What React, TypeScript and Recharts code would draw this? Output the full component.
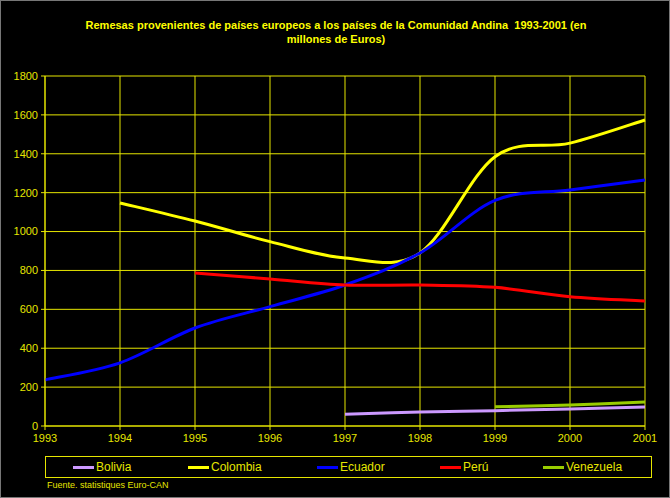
import { LineChart, Line, XAxis, YAxis, CartesianGrid } from "recharts";

const YEARS = [1993, 1994, 1995, 1996, 1997, 1998, 1999, 2000, 2001];
const Y_TICKS = [0, 200, 400, 600, 800, 1000, 1200, 1400, 1600, 1800];

const BOLIVIA = [null, null, null, null, 60, 72, 79, 88, 98];
const COLOMBIA = [null, 1147, 1054, 948, 864, 890, 1385, 1455, 1574];
const ECUADOR = [237, 325, 504, 614, 725, 890, 1160, 1214, 1265];
const PERU = [null, null, 787, 756, 725, 725, 713, 665, 643];
const VENEZUELA = [null, null, null, null, null, null, 99, 108, 123];

const SERIES = [
  { key: "Bolivia", values: BOLIVIA, color: "#cc99ff" },
  { key: "Colombia", values: COLOMBIA, color: "#ffff00" },
  { key: "Ecuador", values: ECUADOR, color: "#0000ff" },
  { key: "Perú", values: PERU, color: "#ff0000" },
  { key: "Venezuela", values: VENEZUELA, color: "#99cc00" },
];

const YELLOW = "#e6e600";
const FONT = "'Liberation Sans', Arial, sans-serif";

// Excel style smoothing (Catmull-Rom through the points)
function smoothCurve(context: any) {
  let pts: number[][] = [];
  return {
    areaStart() {},
    areaEnd() {},
    lineStart() {
      pts = [];
    },
    point(x: number, y: number) {
      pts.push([+x, +y]);
    },
    lineEnd() {
      if (!pts.length) return;
      context.moveTo(pts[0][0], pts[0][1]);
      for (let i = 0; i < pts.length - 1; i++) {
        const p0 = pts[i - 1] || pts[i];
        const p1 = pts[i];
        const p2 = pts[i + 1];
        const p3 = pts[i + 2] || p2;
        context.bezierCurveTo(
          p1[0] + (p2[0] - p0[0]) / 6,
          p1[1] + (p2[1] - p0[1]) / 6,
          p2[0] - (p3[0] - p1[0]) / 6,
          p2[1] - (p3[1] - p1[1]) / 6,
          p2[0],
          p2[1]
        );
      }
    },
  };
}

const data = YEARS.map((year, i) => {
  const row: Record<string, any> = { year };
  for (const s of SERIES) row[s.key] = s.values[i];
  return row;
});

const LEGEND_X = [72, 187, 316, 439, 542];

export default function App() {
  return (
    <div
      style={{
        position: "absolute",
        left: 0,
        top: 0,
        width: 670,
        height: 498,
        background: "#000",
        boxSizing: "border-box",
        border: "1px solid #777",
        fontFamily: FONT,
      }}
    >
      <div
        style={{
          position: "absolute",
          top: 17,
          left: 0,
          width: 670,
          textAlign: "center",
          color: "#ffff00",
          fontWeight: "bold",
          fontSize: 11,
          lineHeight: "14px",
        }}
      >
        Remesas provenientes de países europeos a los países de la Comunidad Andina&nbsp; 1993-2001 (en
        <br />
        millones de Euros)
      </div>
      <LineChart
        width={668}
        height={496}
        data={data}
        margin={{ top: 75, right: 24, left: 0, bottom: 51 }}
        style={{ position: "absolute", left: 0, top: 0 }}
      >
        <CartesianGrid stroke={YELLOW} strokeWidth={1} />
        <XAxis
          dataKey="year"
          type="number"
          domain={[1993, 2001]}
          ticks={YEARS}
          height={20}
          stroke={YELLOW}
          tickSize={4}
          tickMargin={4}
          tick={{ fill: YELLOW, fontSize: 11, fontFamily: FONT }}
        />
        <YAxis
          domain={[0, 1800]}
          ticks={Y_TICKS}
          width={44}
          stroke={YELLOW}
          tickSize={4}
          tickMargin={3}
          tick={{ fill: YELLOW, fontSize: 11, fontFamily: FONT }}
        />
        {SERIES.map((s) => (
          <Line
            key={s.key}
            dataKey={s.key}
            type={smoothCurve as any}
            stroke={s.color}
            strokeWidth={3}
            dot={false}
            isAnimationActive={false}
          />
        ))}
      </LineChart>
      <div
        style={{
          position: "absolute",
          left: 44,
          top: 455,
          width: 607,
          height: 22,
          boxSizing: "border-box",
          border: `1px solid ${YELLOW}`,
        }}
      >
        {SERIES.map((s, i) => (
          <div
            key={s.key}
            style={{
              position: "absolute",
              left: LEGEND_X[i] - 45,
              top: 2,
              display: "flex",
              alignItems: "center",
              height: 16,
              color: YELLOW,
              fontSize: 12,
            }}
          >
            <span
              style={{
                display: "inline-block",
                width: 21,
                height: 3,
                background: s.color,
                marginRight: 2,
              }}
            />
            {s.key}
          </div>
        ))}
      </div>
      <div
        style={{
          position: "absolute",
          left: 46,
          top: 479,
          color: YELLOW,
          fontSize: 9,
        }}
      >
        Fuente. statistiques Euro-CAN
      </div>
    </div>
  );
}
